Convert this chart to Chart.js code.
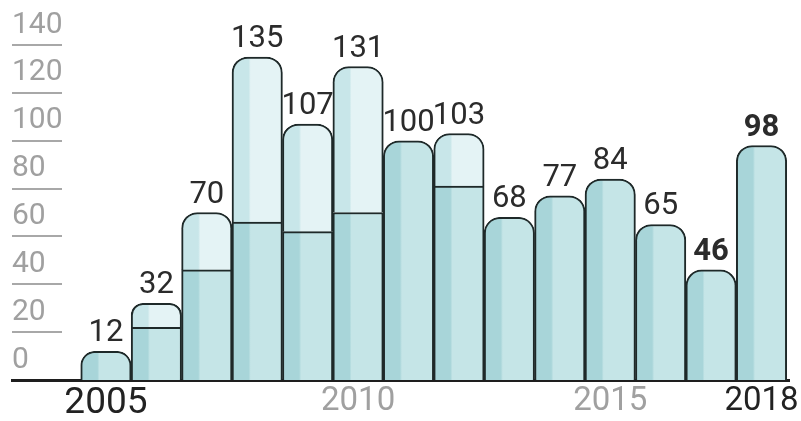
<!DOCTYPE html>
<html>
<head>
<meta charset="utf-8">
<script src="https://cdn.jsdelivr.net/npm/chart.js@4"></script>
<style>
  body { margin: 0; background: #fff; }
  #wrap { width: 801px; height: 421px; }
</style>
</head>
<body>
<div id="wrap"><canvas id="chart"></canvas></div>
<script>
// chart data
const years = [2005, 2006, 2007, 2008, 2009, 2010, 2011, 2012, 2013, 2014, 2015, 2016, 2017, 2018];
const lowerValues = [12, 22, 46, 66, 62, 70, 100, 81, 68, 77, 84, 65, 46, 98];
const upperValues = [0, 10, 24, 69, 45, 61, 0, 22, 0, 0, 0, 0, 0, 0];
const tickYears = [2005, 2010, 2015, 2018];
const boldYears = [2017, 2018];

const RADIUS = 16;
const FONT = 'Roboto, "Liberation Sans", sans-serif';

// bar fill with the darker stripe on the left side
function stripeFill(ctx, stripe, main) {
    const chart = ctx.chart;
    const xs = chart.scales.x;
    if (!xs || ctx.dataIndex == null) return main;
    const c = xs.getPixelForValue(years[ctx.dataIndex]);
    const w = xs.getPixelForValue(years[1]) - xs.getPixelForValue(years[0]);
    const left = c - w / 2;
    if (!isFinite(left) || !isFinite(w) || w <= 0) return main;
    const g = chart.ctx.createLinearGradient(left, 0, left + w, 0);
    g.addColorStop(0, stripe);
    g.addColorStop(0.33, stripe);
    g.addColorStop(0.37, main);
    g.addColorStop(1, main);
    return g;
}

// short grey lines under the y tick labels
const yTickLines = {
    id: 'yTickLines',
    afterDraw(chart) {
        const ys = chart.scales.y;
        const c = chart.ctx;
        c.save();
        c.strokeStyle = '#a8a8a8';
        c.lineWidth = 2;
        ys.ticks.forEach(t => {
            if (t.value === 0) return;
            const y = Math.round(ys.getPixelForValue(t.value));
            c.beginPath();
            c.moveTo(chart.chartArea.left, y);
            c.lineTo(chart.chartArea.left + 50, y);
            c.stroke();
        });
        c.restore();
    }
};

// totals above the bars
const totalLabels = {
    id: 'totalLabels',
    afterDatasetsDraw(chart) {
        const c = chart.ctx;
        const low = chart.getDatasetMeta(0).data;
        const up = chart.getDatasetMeta(1).data;
        c.save();
        c.fillStyle = '#2b2b2b';
        c.textAlign = 'center';
        c.textBaseline = 'alphabetic';
        years.forEach((yr, i) => {
            const total = lowerValues[i] + upperValues[i];
            const top = upperValues[i] > 0 ? up[i].y : low[i].y;
            const bold = boldYears.includes(yr);
            c.font = (bold ? '700 ' : '400 ') + '31px ' + FONT;
            c.fillText(String(total), low[i].x, top - 10);
        });
        c.restore();
    }
};

new Chart(document.getElementById('chart'), {
    type: 'bar',
    data: {
        labels: years,
        datasets: [{
            data: lowerValues,
            backgroundColor: ctx => stripeFill(ctx, '#a8d5d9', '#c5e5e7'),
            borderColor: '#1e2929',
            borderWidth: 2,
            borderSkipped: 'start',
            borderRadius: ctx => upperValues[ctx.dataIndex] > 0 ? 0 :
                { topLeft: RADIUS, topRight: RADIUS, bottomLeft: 0, bottomRight: 0 },
            barPercentage: 1,
            categoryPercentage: 1
        }, {
            data: upperValues,
            backgroundColor: ctx => stripeFill(ctx, '#c8e6e9', '#e4f3f5'),
            borderColor: '#1e2929',
            borderWidth: 2,
            borderSkipped: 'start',
            borderRadius: { topLeft: RADIUS, topRight: RADIUS, bottomLeft: 0, bottomRight: 0 },
            barPercentage: 1,
            categoryPercentage: 1
        }]
    },
    options: {
        responsive: true,
        maintainAspectRatio: false,
        animation: false,
        layout: { padding: { left: 12, right: 11, top: 45, bottom: 0 } },
        plugins: {
            legend: { display: false },
            tooltip: { enabled: false }
        },
        scales: {
            x: {
                type: 'linear',
                stacked: true,
                offset: false,
                min: 2003.137,
                max: 2018.555,
                grid: { display: false, drawTicks: false },
                border: { display: true, color: '#1e1e1e', width: 3 },
                afterBuildTicks: scale => { scale.ticks = tickYears.map(v => ({ value: v })); },
                afterFit: scale => { scale.height = 41; },
                ticks: {
                    autoSkip: false,
                    maxRotation: 0,
                    padding: 2,
                    callback: v => String(v),
                    color: ctx => (ctx.tick && (ctx.tick.value === 2005 || ctx.tick.value === 2018)) ? '#222' : '#a0a0a0',
                    font: ctx => ({
                        family: FONT,
                        weight: '400',
                        size: (ctx.tick && ctx.tick.value === 2005) ? 37 : 33
                    })
                }
            },
            y: {
                stacked: true,
                min: 0,
                max: 140,
                grid: { display: false, drawTicks: false },
                border: { display: false },
                afterFit: scale => { scale.width = 0; },
                ticks: {
                    stepSize: 20,
                    mirror: true,
                    padding: 0,
                    labelOffset: -20,
                    color: '#a0a0a0',
                    font: { family: FONT, weight: '400', size: 30 }
                }
            }
        }
    },
    plugins: [yTickLines, totalLabels]
});
</script>
</body>
</html>
